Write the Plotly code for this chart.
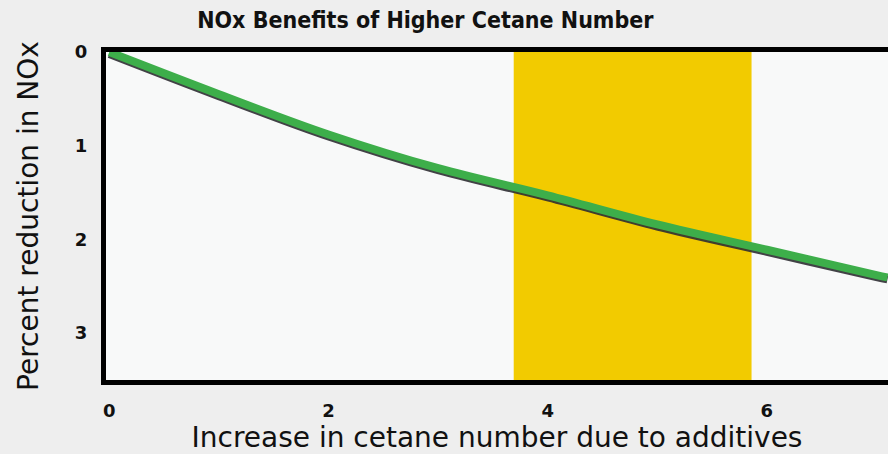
import plotly.graph_objects as go

# Data
cetane_increase = [0, 1, 2, 3, 4, 5, 6, 7, 7.1]
nox_reduction = [0.0, 0.45, 0.88, 1.24, 1.53, 1.84, 2.11, 2.38, 2.405]
band_start = 3.69
band_end = 5.86
x_tick_vals = [0, 2, 4, 6]
y_tick_vals = [0, 1, 2, 3]

X_RANGE = [-0.03, 7.105]
Y_RANGE = [3.5, 0]
shadow_shift = 0.022

fig = go.Figure()

# shadow line (same data, drawn on the slightly shifted base y axis)
fig.add_trace(go.Scatter(
    x=cetane_increase, y=nox_reduction, mode="lines",
    line=dict(color="rgba(45,45,50,0.9)", width=8, shape="spline"),
    yaxis="y", hoverinfo="skip", showlegend=False, cliponaxis=True))

# main green line on the overlaying axis (drawn on top)
fig.add_trace(go.Scatter(
    x=cetane_increase, y=nox_reduction, mode="lines",
    line=dict(color="#3DAE4A", width=8, shape="spline"),
    yaxis="y2", showlegend=False, cliponaxis=True))

fig.add_shape(type="rect", xref="x", yref="paper", x0=band_start, x1=band_end,
              y0=0, y1=1, fillcolor="#F2CB00", line=dict(width=0), layer="below")

tick_font = dict(family="DejaVu Sans", size=18, color="#111111", weight="bold")
title_font = dict(family="DejaVu Sans", size=28, color="#111111")

fig.update_layout(
    width=888, height=454,
    margin=dict(l=106, r=0, t=52, b=74),
    paper_bgcolor="#EEEEEE",
    plot_bgcolor="#F8F9F9",
    title=dict(text="<b>NOx Benefits of Higher Cetane Number</b>",
               font=dict(family="DejaVu Sans Condensed", size=23, color="#111111"),
               x=0.479, xanchor="center", y=0.955, yanchor="middle"),
    xaxis=dict(range=X_RANGE, tickvals=x_tick_vals, showgrid=False, zeroline=False,
               showline=True, linecolor="#000000", linewidth=5, mirror=True,
               ticks="outside", ticklen=10, tickcolor="rgba(0,0,0,0)",
               tickfont=tick_font,
               title=dict(text="Increase in cetane number due to additives",
                          font=title_font, standoff=2)),
    yaxis=dict(range=[Y_RANGE[0] - shadow_shift, Y_RANGE[1] - shadow_shift],
               showgrid=False, zeroline=False, showticklabels=False, showline=False,
               ticks=""),
    yaxis2=dict(range=Y_RANGE, tickvals=y_tick_vals, overlaying="y", side="left",
                showgrid=False, zeroline=False,
                showline=True, linecolor="#000000", linewidth=5,
                ticks="outside", ticklen=10, tickcolor="rgba(0,0,0,0)",
                tickfont=tick_font,
                title=dict(text="Percent reduction in NOx", font=title_font, standoff=30)),
)

fig.write_html("out.html",
               config={"displayModeBar": False},
               post_script="document.body.style.margin='0';document.body.style.padding='0';")
